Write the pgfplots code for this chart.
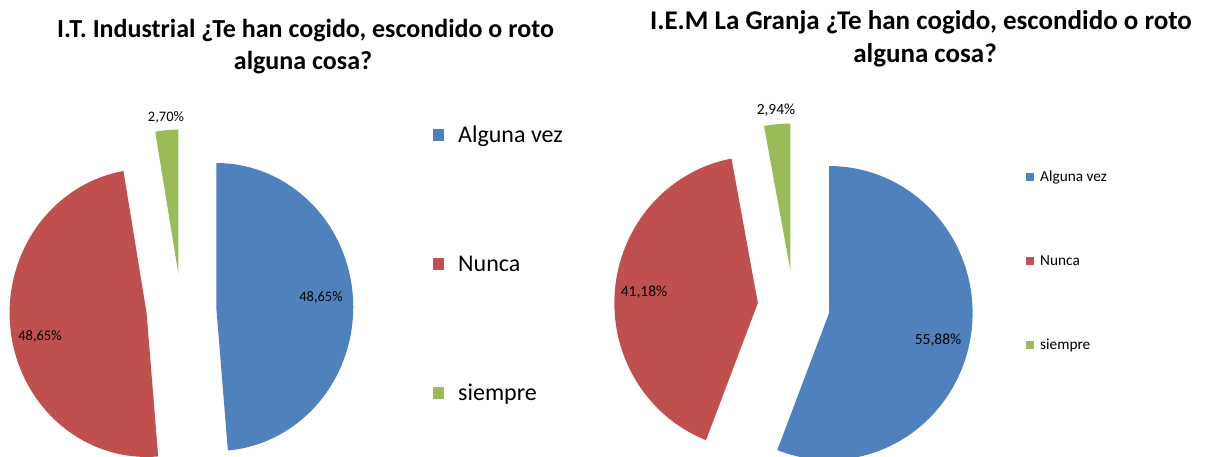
\documentclass[border=0pt]{standalone}
\usepackage{fontspec}
\setmainfont{Carlito}
\usepackage{pgfplots}
\pgfplotsset{compat=1.18}
\definecolor{cblue}{HTML}{4F81BD}
\definecolor{cred}{HTML}{C0504D}
\definecolor{cgreen}{HTML}{9BBB59}
% #1 start angle (deg, math), #2 percent, #3 colour, #4 cx, #5 cy, #6 rx, #7 ry, #8 explosion
\newcommand\slice[8]{%
  \pgfmathsetmacro\sA{#1-3.6*#2}%
  \pgfmathsetmacro\sM{#1-1.8*#2}%
  \pgfmathsetmacro\ax{#4+#8*cos(\sM)}%
  \pgfmathsetmacro\ay{#5+#8*sin(\sM)}%
  \edef\tmp{\noexpand\addplot[fill=#3, draw=none, domain=\sA:#1, samples=120, variable=\noexpand\t]
    ({\ax+#6*cos(\noexpand\t)}, {\ay+#7*sin(\noexpand\t)}) -- (axis cs:\ax,\ay) -- cycle;}%
  \tmp}
\pgfplotsset{
  pieaxis/.style={hide axis, scale only axis, width=604pt, height=456pt,
    ymin=0, ymax=456, anchor=south west, clip=true,
    legend cell align=left,
    legend style={draw=none, fill=none}},
  bigsq/.style={legend image code/.code={\fill[##1] (0pt,-6pt) rectangle (11pt,6pt);}},
  smallsq/.style={legend image code/.code={\fill[##1] (0pt,-4pt) rectangle (8pt,4pt);}},
}
\begin{document}
\begin{tikzpicture}
\useasboundingbox (0,0) rectangle (1208pt,456pt);
% ---------- left ----------
\begin{axis}[pieaxis, bigsq, at={(0pt,0pt)}, xmin=0, xmax=604,
  legend style={at={(433pt,331pt)}, anchor=north west, font=\fontsize{24}{24}\selectfont,
    row sep=111.5pt, inner sep=0pt, nodes={inner sep=0pt, anchor=west}}]
\slice{90}{48.65}{cblue}{181.3}{147.5}{137}{144}{35}
\slice{-85.14}{48.65}{cred}{181.3}{147.5}{137}{144}{35}
\slice{-260.28}{2.70}{cgreen}{181.3}{147.5}{137}{144}{35}
\addlegendimage{area legend, fill=cblue}\addlegendentry{\hspace{14pt}Alguna vez}
\addlegendimage{area legend, fill=cred}\addlegendentry{\hspace{14pt}Nunca}
\addlegendimage{area legend, fill=cgreen}\addlegendentry{\hspace{14pt}siempre}
\node[font=\fontsize{14.5}{14.5}\selectfont] at (axis cs:321,159) {48,65\%};
\node[font=\fontsize{14.5}{14.5}\selectfont] at (axis cs:40,120) {48,65\%};
\node[font=\fontsize{14.5}{14.5}\selectfont] at (axis cs:166,339) {2,70\%};
\node[font=\bfseries\fontsize{26}{26}\selectfont, anchor=base] at (axis cs:305.5,418)
  {I.T. Industrial ¿Te han cogido, escondido o roto};
\node[font=\bfseries\fontsize{26}{26}\selectfont, anchor=base] at (axis cs:303,386)
  {alguna cosa?};
\end{axis}
% ---------- right ----------
\begin{axis}[pieaxis, smallsq, at={(604pt,0pt)}, xmin=604, xmax=1208,
  legend style={at={(422pt,289pt)}, anchor=north west, font=\fontsize{15.3}{15.3}\selectfont,
    row sep=72pt, inner sep=0pt, nodes={inner sep=0pt, anchor=west}}]
\slice{90}{55.88}{cblue}{793.7}{149.6}{143.5}{147}{36}
\slice{-111.17}{41.18}{cred}{793.7}{149.6}{143.5}{147}{36}
\slice{-259.42}{2.94}{cgreen}{793.7}{149.6}{143.5}{147}{36}
\addlegendimage{area legend, fill=cblue}\addlegendentry{\hspace{6pt}Alguna vez}
\addlegendimage{area legend, fill=cred}\addlegendentry{\hspace{6pt}Nunca}
\addlegendimage{area legend, fill=cgreen}\addlegendentry{\hspace{6pt}siempre}
\node[font=\fontsize{15.5}{15.5}\selectfont] at (axis cs:938,116) {55,88\%};
\node[font=\fontsize{15.5}{15.5}\selectfont] at (axis cs:644,164) {41,18\%};
\node[font=\fontsize{15.5}{15.5}\selectfont] at (axis cs:776,346) {2,94\%};
\node[font=\bfseries\fontsize{27}{27}\selectfont, anchor=base] at (axis cs:921,426)
  {I.E.M La Granja ¿Te han cogido, escondido o roto};
\node[font=\bfseries\fontsize{27}{27}\selectfont, anchor=base] at (axis cs:925,393)
  {alguna cosa?};
\end{axis}
\end{tikzpicture}
\end{document}
